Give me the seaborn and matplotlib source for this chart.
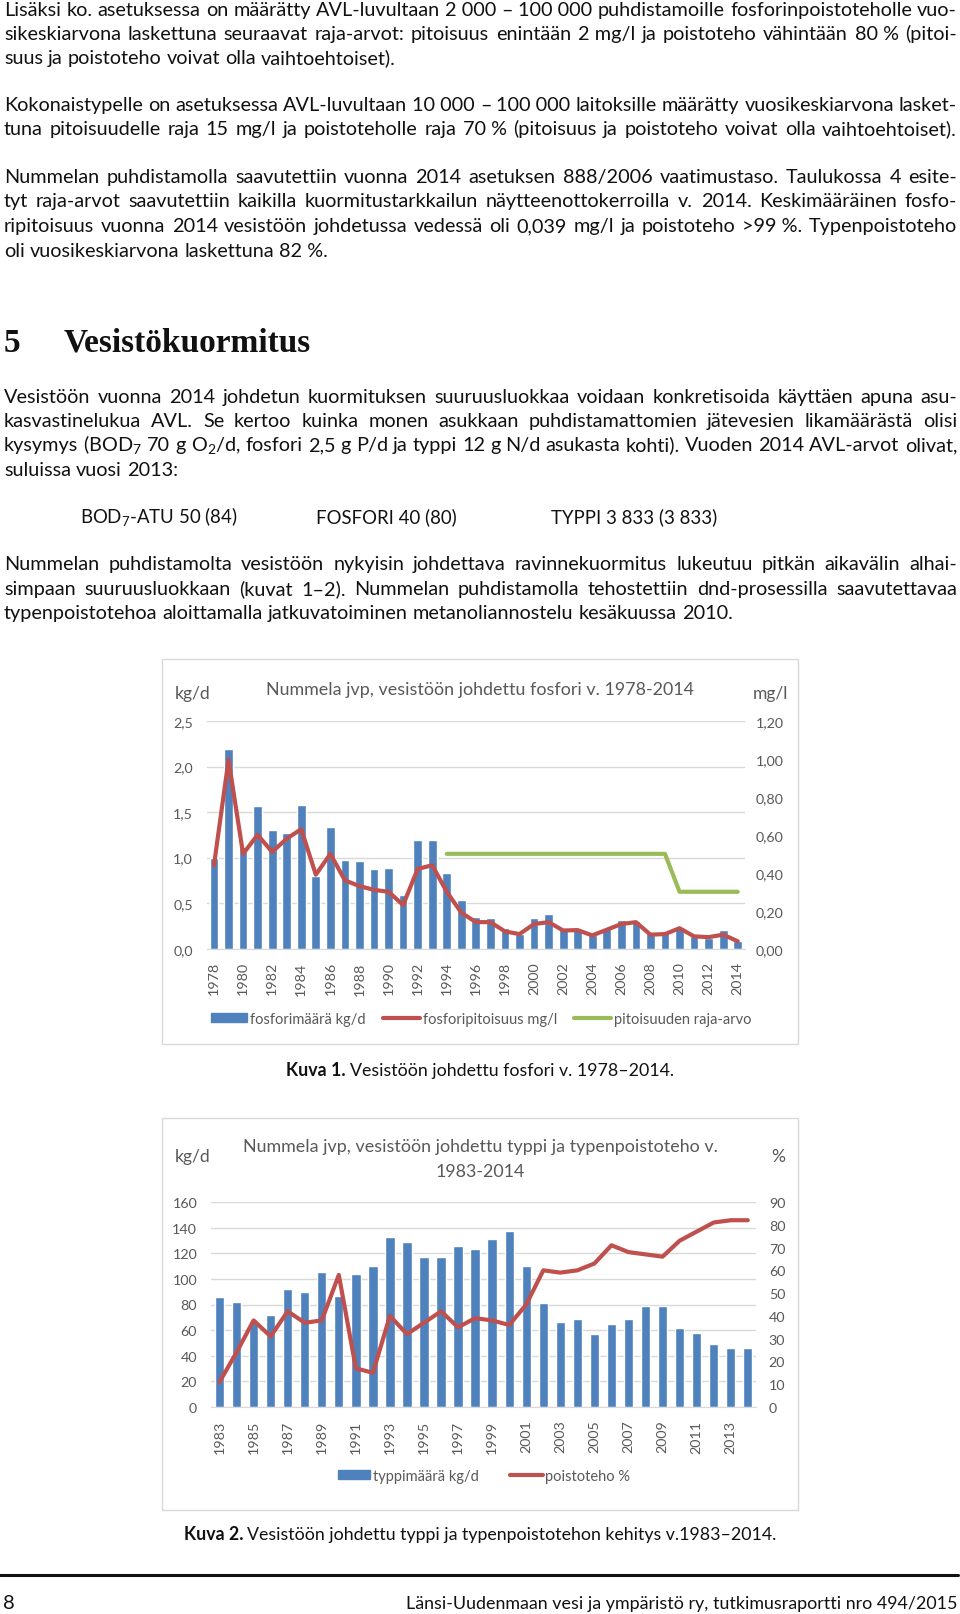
import numpy as np
import matplotlib
matplotlib.use("Agg")
import matplotlib.pyplot as plt
import seaborn as sns
from matplotlib.patches import Rectangle, Patch
from matplotlib.lines import Line2D
from matplotlib.ticker import FuncFormatter

W, H = 960, 1615
BLUE, RED, GREEN = "#4F81BD", "#C0504D", "#9BBB59"
GRAY, GRID = "#595959", "#D9D9D9"
INK = "#111111"

# chart 1: phosphorus 1978-2014
p_years = list(range(1978, 2015))
p_load = [1.00, 2.19, 1.12, 1.57, 1.30, 1.27, 1.58, 0.80, 1.34, 0.97, 0.96, 0.88, 0.89,
          0.59, 1.19, 1.19, 0.83, 0.53, 0.35, 0.34, 0.23, 0.16, 0.34, 0.38, 0.23, 0.20,
          0.15, 0.23, 0.31, 0.30, 0.17, 0.17, 0.24, 0.14, 0.12, 0.20, 0.09]
p_conc = [0.44, 0.995, 0.50, 0.60, 0.51, 0.58, 0.63, 0.39, 0.50, 0.36, 0.33, 0.31, 0.30,
          0.23, 0.42, 0.44, 0.30, 0.19, 0.14, 0.14, 0.091, 0.077, 0.13, 0.14, 0.096, 0.098,
          0.07, 0.10, 0.13, 0.14, 0.074, 0.077, 0.108, 0.065, 0.061, 0.074, 0.039]
lim_years = list(range(1994, 2015))
lim_vals = [0.5] * 16 + [0.3] * 5

# chart 2: nitrogen 1983-2014
n_years = list(range(1983, 2015))
n_load = [86, 82, 67, 72, 92, 90, 105, 87, 104, 110, 133, 129, 117, 117, 126, 123,
          131, 137, 110, 81, 66, 69, 57, 65, 69, 79, 79, 62, 58, 49, 46, 46]
n_eff = [11, 24, 38, 31, 42, 37, 38, 58, 17, 15, 40, 32, 37, 42, 35, 39,
         38, 36, 45, 60, 59, 60, 63, 71, 68, 67, 66, 73, 77, 81, 82, 82]

NB = "\u00a0"
para1 = ["Lisäksi ko. asetuksessa on määrätty AVL-luvultaan 2" + NB + "000 – 100" + NB + "000 puhdistamoille fosforinpoistoteholle vuo-",
         "sikeskiarvona laskettuna seuraavat raja-arvot: pitoisuus enintään 2" + NB + "mg/l ja poistoteho vähintään 80" + NB + "% (pitoi-",
         "suus ja poistoteho voivat olla vaihtoehtoiset)."]
para2 = ["Kokonaistypelle on asetuksessa AVL-luvultaan 10" + NB + "000 – 100" + NB + "000 laitoksille määrätty vuosikeskiarvona lasket-",
         "tuna pitoisuudelle raja 15 mg/l ja poistoteholle raja 70" + NB + "% (pitoisuus ja poistoteho voivat olla vaihtoehtoiset)."]
para3 = ["Nummelan puhdistamolla saavutettiin vuonna 2014 asetuksen 888/2006 vaatimustaso. Taulukossa 4 esite-",
         "tyt raja-arvot saavutettiin kaikilla kuormitustarkkailun näytteenottokerroilla v. 2014. Keskimääräinen fosfo-",
         "ripitoisuus vuonna 2014 vesistöön johdetussa vedessä oli 0,039 mg/l ja poistoteho >99" + NB + "%. Typenpoistoteho",
         "oli vuosikeskiarvona laskettuna 82" + NB + "%."]
para4 = ["Vesistöön vuonna 2014 johdetun kuormituksen suuruusluokkaa voidaan konkretisoida käyttäen apuna asu-",
         "kasvastinelukua AVL. Se kertoo kuinka monen asukkaan puhdistamattomien jätevesien likamäärästä olisi",
         "kysymys (BOD$_7$ 70 g O$_2$/d, fosfori 2,5 g P/d ja typpi 12 g N/d asukasta kohti). Vuoden 2014 AVL-arvot olivat,",
         "suluissa vuosi 2013:"]
para5 = ["Nummelan puhdistamolta vesistöön nykyisin johdettava ravinnekuormitus lukeutuu pitkän aikavälin alhai-",
         "simpaan suuruusluokkaan (kuvat 1–2). Nummelan puhdistamolla tehostettiin dnd-prosessilla saavutettavaa",
         "typenpoistotehoa aloittamalla jatkuvatoiminen metanoliannostelu kesäkuussa 2010."]

sns.set_style("white")
plt.rcParams["font.family"] = ["Lato", "DejaVu Sans"]
plt.rcParams["mathtext.fontset"] = "custom"
plt.rcParams["mathtext.rm"] = "Lato"
plt.rcParams["mathtext.it"] = "Lato"

fig = plt.figure(figsize=(W / 100, H / 100), dpi=100)
fig.patch.set_facecolor("white")
renderer = fig.canvas.get_renderer()

BODY = 14.3


def fx(x):
    return x / W


def fy(y):
    return 1 - y / H


def width_of(t):
    return t.get_window_extent(renderer=renderer).width


def text_line(y, line, x0=4, x1=957, justify=True, size=BODY, color=INK):
    words = line.split(" ")
    texts = [fig.text(0, 0, w, fontsize=size, color=color, va="baseline") for w in words]
    widths = [width_of(t) for t in texts]
    probe = fig.text(0, 0, "a a", fontsize=size)
    probe2 = fig.text(0, 0, "aa", fontsize=size)
    space = width_of(probe) - width_of(probe2)
    probe.remove()
    probe2.remove()
    if justify and len(words) > 1:
        gap = (x1 - x0 - sum(widths)) / (len(words) - 1)
        if gap < space * 0.6:
            for t in texts:
                t.remove()
            return text_line(y, line, x0, x1, justify, size * 0.985, color)
    else:
        gap = space
    x = x0
    for t, w in zip(texts, widths):
        t.set_position((fx(x), fy(y)))
        x += w + gap


def paragraph(lines, ys, last_justified=False):
    for i, (ln, y) in enumerate(zip(lines, ys)):
        last = i == len(lines) - 1
        text_line(y, ln, justify=(not last) or last_justified)


BASE = 5.5
paragraph(para1, [10.3 + BASE, 34.5 + BASE, 58.7 + BASE])
paragraph(para2, [105.1 + BASE, 129.8 + BASE], last_justified=True)
paragraph(para3, [177.2 + BASE, 201.9 + BASE, 226.6 + BASE, 251.3 + BASE])
paragraph(para4, [397.6 + BASE, 421.8 + BASE, 446.0 + BASE, 470.7 + BASE])
paragraph(para5, [564.4 + BASE, 589.2 + BASE, 613.9 + BASE])

# heading
fig.text(fx(4), fy(352), "5", fontsize=24, fontweight="bold", family="Liberation Serif", va="baseline", color=INK)
fig.text(fx(64), fy(352), "Vesistökuormitus", fontsize=24, fontweight="bold", family="Liberation Serif",
         va="baseline", color=INK)

# AVL values
for x, s in [(80, "BOD$_7$-ATU 50 (84)"), (316, "FOSFORI 40 (80)"), (551, "TYPPI 3" + NB + "833 (3" + NB + "833)")]:
    fig.text(fx(x), fy(523), s, fontsize=13.4, va="baseline", color=INK)


def caption(y, bold, rest, cx=480, size=12.8):
    tb = fig.text(0, fy(y), bold, fontsize=size, fontweight="bold", va="baseline", color=INK)
    tr = fig.text(0, fy(y), rest, fontsize=size, va="baseline", color=INK)
    wb, wr = width_of(tb), width_of(tr)
    sp = size * 100 / 72 * 0.23
    x = cx - (wb + sp + wr) / 2
    tb.set_x(fx(x))
    tr.set_x(fx(x + wb + sp))


def style_axes(ax, left=True):
    for s in ["top", "left", "right"]:
        ax.spines[s].set_visible(False)
    ax.spines["bottom"].set_visible(left)
    ax.spines["bottom"].set_color(GRID)
    ax.tick_params(length=0, colors=GRAY, labelsize=10.3)
    ax.set_xlabel("")
    ax.set_ylabel("")


# ---------------- chart 1 ----------------
fig.add_artist(Rectangle((fx(162), fy(1045)), (798 - 162) / W, (1045 - 660) / H,
                         transform=fig.transFigure, fill=False, edgecolor=GRID, lw=1))
ax1 = fig.add_axes([fx(206.7), fy(949.7), (745 - 206.7) / W, (949.7 - 722) / H])
sns.barplot(x=[str(y) for y in p_years], y=p_load, color=BLUE, saturation=1, width=0.6, ax=ax1)
ax1.set_ylim(0, 2.5)
ax1.set_yticks(np.arange(0, 2.51, 0.5))
ax1.yaxis.set_major_formatter(FuncFormatter(lambda v, _: f"{v:.1f}".replace(".", ",")))
ax1.grid(axis="y", color=GRID, lw=1)
ax1.set_axisbelow(True)
style_axes(ax1)
ax1.set_xticks(range(len(p_years)))
ax1.set_xticklabels([str(y) if (y - p_years[0]) % 2 == 0 else "" for y in p_years], rotation=90)
ax1.tick_params(axis="y", pad=10)
ax1.tick_params(axis="x", pad=9)

ax1r = ax1.twinx()
sns.lineplot(x=np.arange(len(p_years)), y=p_conc, ax=ax1r, color=RED, lw=3, solid_joinstyle="round")
sns.lineplot(x=[p_years.index(y) for y in lim_years], y=lim_vals, ax=ax1r, color=GREEN, lw=3,
             solid_joinstyle="round")
ax1r.set_ylim(0, 1.2)
ax1r.set_yticks(np.arange(0, 1.21, 0.2))
ax1r.yaxis.set_major_formatter(FuncFormatter(lambda v, _: f"{v:.2f}".replace(".", ",")))
style_axes(ax1r, left=False)
ax1r.tick_params(axis="y", pad=8)
ax1.set_xlim(-0.5, len(p_years) - 0.5)

fig.text(fx(480), fy(695), "Nummela jvp, vesistöön johdettu fosfori v. 1978-2014", ha="center",
         va="baseline", fontsize=12.9, color=GRAY)
fig.text(fx(175), fy(699), "kg/d", va="baseline", fontsize=12.6, color=GRAY)
fig.text(fx(788), fy(699), "mg/l", ha="right", va="baseline", fontsize=12.6, color=GRAY)

fig.legend(handles=[Patch(color=BLUE), Line2D([], [], color=RED, lw=3), Line2D([], [], color=GREEN, lw=3)],
           labels=["fosforimäärä kg/d", "fosforipitoisuus mg/l", "pitoisuuden raja-arvo"],
           loc="center", bbox_to_anchor=(fx(481), fy(1020)), ncol=3, frameon=False, fontsize=10.5,
           handlelength=2.5, handleheight=0.55, handletextpad=0.2, columnspacing=1.2, labelcolor=GRAY)
caption(1076, "Kuva 1.", "Vesistöön johdettu fosfori v. 1978–2014.")

# ---------------- chart 2 ----------------
fig.add_artist(Rectangle((fx(162), fy(1511)), (798 - 162) / W, (1511 - 1119) / H,
                         transform=fig.transFigure, fill=False, edgecolor=GRID, lw=1))
ax2 = fig.add_axes([fx(211), fy(1408), (756.3 - 211) / W, (1408 - 1203) / H])
sns.barplot(x=[str(y) for y in n_years], y=n_load, color=BLUE, saturation=1, width=0.55, ax=ax2)
ax2.set_ylim(0, 160)
ax2.set_yticks(np.arange(0, 161, 20))
ax2.grid(axis="y", color=GRID, lw=1)
ax2.set_axisbelow(True)
style_axes(ax2)
ax2.set_xticks(range(len(n_years)))
ax2.set_xticklabels([str(y) if (y - n_years[0]) % 2 == 0 else "" for y in n_years], rotation=90)
ax2.tick_params(axis="y", pad=10)
ax2.tick_params(axis="x", pad=9)

ax2r = ax2.twinx()
sns.lineplot(x=np.arange(len(n_years)), y=n_eff, ax=ax2r, color=RED, lw=3, solid_joinstyle="round")
ax2r.set_ylim(0, 90)
ax2r.set_yticks(np.arange(0, 91, 10))
style_axes(ax2r, left=False)
ax2r.tick_params(axis="y", pad=9)
ax2.set_xlim(-0.5, len(n_years) - 0.5)

fig.text(fx(480), fy(1152), "Nummela jvp, vesistöön johdettu typpi ja typenpoistoteho v.", ha="center",
         va="baseline", fontsize=12.9, color=GRAY)
fig.text(fx(480), fy(1177), "1983-2014", ha="center", va="baseline", fontsize=12.9, color=GRAY)
fig.text(fx(175), fy(1162), "kg/d", va="baseline", fontsize=12.6, color=GRAY)
fig.text(fx(778), fy(1162), "%", ha="center", va="baseline", fontsize=12.6, color=GRAY)

fig.legend(handles=[Patch(color=BLUE), Line2D([], [], color=RED, lw=3)],
           labels=["typpimäärä kg/d", "poistoteho %"],
           loc="center", bbox_to_anchor=(fx(484), fy(1477)), ncol=2, frameon=False, fontsize=10.5,
           handlelength=2.2, handleheight=0.55, handletextpad=0.2, columnspacing=2.2, labelcolor=GRAY)
caption(1540, "Kuva 2.", "Vesistöön johdettu typpi ja typenpoistotehon kehitys v.1983–2014.")

# footer
fig.add_artist(Line2D([fx(0), fx(958)], [fy(1576), fy(1576)], transform=fig.transFigure, color=INK, lw=2.2))
fig.text(fx(3), fy(1609), "8", fontsize=14.5, va="baseline", color=INK)
fig.text(fx(958), fy(1609), "Länsi-Uudenmaan vesi ja ympäristö ry, tutkimusraportti nro 494/2015",
         ha="right", va="baseline", fontsize=12.9, color=INK)

fig.savefig("out.png", dpi=100, facecolor="white")
